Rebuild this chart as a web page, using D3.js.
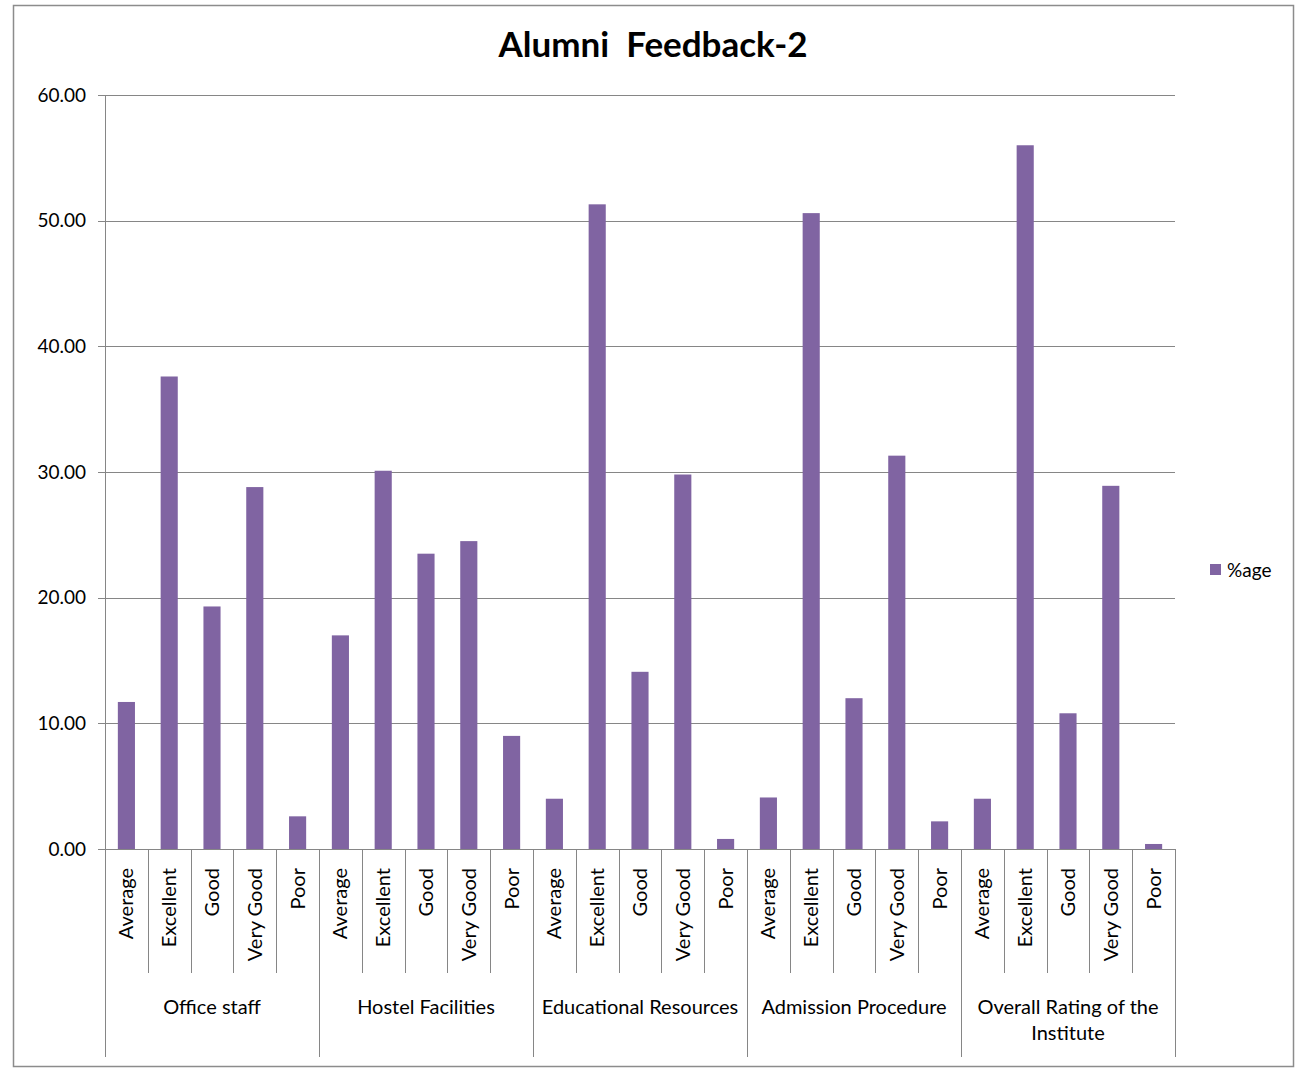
<!DOCTYPE html>
<html>
<head>
<meta charset="utf-8">
<script src="https://d3js.org/d3.v7.min.js"></script>
<style>
  body { margin: 0; background: #fff; }
  svg text { font-family: Lato, "Open Sans", sans-serif; fill: #000; }
</style>
</head>
<body>
<div id="chart"></div>
<script>
// data
const groups = ["Office staff", "Hostel Facilities", "Educational Resources", "Admission Procedure", "Overall Rating of the Institute"];
const ratings = ["Average", "Excellent", "Good", "Very Good", "Poor"];
const officeStaff = [11.7, 37.6, 19.3, 28.8, 2.6];
const hostel = [17.0, 30.1, 23.5, 24.5, 9.0];
const educational = [4.0, 51.3, 14.1, 29.8, 0.8];
const admission = [4.1, 50.6, 12.0, 31.3, 2.2];
const overall = [4.0, 56.0, 10.8, 28.9, 0.4];
const yTicks = [0, 10, 20, 30, 40, 50, 60];
const seriesName = "%age";

const allValues = [officeStaff, hostel, educational, admission, overall];
const rows = [];
groups.forEach((g, gi) => {
    ratings.forEach((r, ri) => {
        rows.push({ key: gi + "|" + r, group: g, gi: gi, rating: r, value: allValues[gi][ri] });
    });
});

const W = 1296, H = 1068;
const plotLeft = 105, plotRight = 1175, plotTop = 95, plotBottom = 849;
const color = "#8064A2";
const lineColor = "#868686";

let svg = d3.select("#chart").append("svg")
    .attr("width", W)
    .attr("height", H);

// chart frame
svg.append("rect")
    .attr("x", 13.5).attr("y", 5.5)
    .attr("width", 1280).attr("height", 1061)
    .attr("fill", "#fff")
    .attr("stroke", "#8c8c8c")
    .attr("stroke-width", 1.5);

// title
svg.append("text")
    .attr("x", 653).attr("y", 57)
    .attr("text-anchor", "middle")
    .style("font-size", "35px")
    .style("font-weight", "bold")
    .style("white-space", "pre")
    .text("Alumni  Feedback-2");

let x = d3.scaleBand()
    .domain(rows.map(d => d.key))
    .range([plotLeft, plotRight])
    .paddingInner(0.6)
    .paddingOuter(0.3);

let y = d3.scaleLinear().domain([0, 60]).range([plotBottom, plotTop]);

// gridlines
svg.append("g")
    .selectAll("line")
    .data(yTicks)
    .enter().append("line")
    .attr("x1", plotLeft - 7).attr("x2", plotRight)
    .attr("y1", d => Math.round(y(d)) + 0.5)
    .attr("y2", d => Math.round(y(d)) + 0.5)
    .attr("stroke", lineColor)
    .attr("stroke-width", 1);

// y axis line
svg.append("line")
    .attr("x1", plotLeft + 0.5).attr("x2", plotLeft + 0.5)
    .attr("y1", plotTop).attr("y2", plotBottom)
    .attr("stroke", lineColor);

// y labels
svg.append("g")
    .selectAll("text")
    .data(yTicks)
    .enter().append("text")
    .attr("x", 86)
    .attr("y", d => y(d))
    .attr("dy", "0.35em")
    .attr("text-anchor", "end")
    .style("font-size", "19px")
    .text(d => d3.format(".2f")(d));

// bars
svg.append("g")
    .selectAll("rect")
    .data(rows)
    .enter().append("rect")
    .attr("x", d => x(d.key))
    .attr("y", d => y(d.value))
    .attr("width", x.bandwidth())
    .attr("height", d => plotBottom - y(d.value))
    .attr("fill", color);

// category axis
const step = x.step();
const xStart = plotLeft;
let axis = svg.append("g");
// dividers between ratings, longer between groups
for (let i = 0; i <= rows.length; i++) {
    let xx = Math.round(xStart + i * step) + 0.5;
    let long = (i % ratings.length === 0);
    axis.append("line")
        .attr("x1", xx).attr("x2", xx)
        .attr("y1", plotBottom).attr("y2", long ? 1057 : 973)
        .attr("stroke", lineColor);
}
axis.append("line")
    .attr("x1", plotLeft).attr("x2", plotRight)
    .attr("y1", plotBottom + 0.5).attr("y2", plotBottom + 0.5)
    .attr("stroke", lineColor);

// rating labels (rotated)
axis.selectAll("text.rating")
    .data(rows)
    .enter().append("text")
    .attr("class", "rating")
    .attr("transform", d => "translate(" + (x(d.key) + x.bandwidth() / 2) + "," + 868 + ") rotate(-90)")
    .attr("dy", "0.35em")
    .attr("text-anchor", "end")
    .style("font-size", "20px")
    .text(d => d.rating);

// group labels
const groupLines = {
    "Overall Rating of the Institute": ["Overall Rating of the", "Institute"]
};
groups.forEach((g, gi) => {
    let cx = xStart + (gi * ratings.length + ratings.length / 2) * step;
    let lines = groupLines[g] || [g];
    let t = axis.append("text")
        .attr("x", cx)
        .attr("y", 1014)
        .attr("text-anchor", "middle")
        .style("font-size", "20px");
    lines.forEach((l, li) => {
        t.append("tspan").attr("x", cx).attr("dy", li === 0 ? 0 : 26).text(l);
    });
});

// legend
let legend = svg.append("g").attr("transform", "translate(1210,564)");
legend.append("rect").attr("width", 11).attr("height", 11).attr("fill", color);
legend.append("text")
    .attr("x", 17).attr("y", 6)
    .attr("dy", "0.35em")
    .style("font-size", "19px")
    .text(seriesName);
</script>
</body>
</html>
